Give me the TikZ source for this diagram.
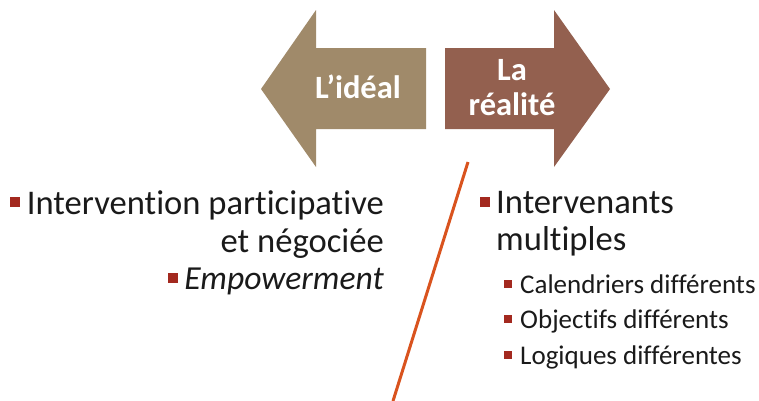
\documentclass[tikz,border=0pt]{standalone}
\usepackage{fontspec}
\setmainfont[Ligatures=NoCommon]{Carlito}
\definecolor{tan}{HTML}{A08A6A}
\definecolor{brownred}{HTML}{93604F}
\definecolor{bul}{HTML}{A3291F}
\definecolor{orangeline}{HTML}{D9531E}
\definecolor{txt}{HTML}{1A1A1A}
\begin{document}
\begin{tikzpicture}[x=1pt,y=-1pt,
  arrowlabel/.style={text=white,font=\bfseries\fontsize{32.5}{35}\selectfont,align=center,inner sep=0},
  bigtext/.style={text=txt,font=\fontsize{34.6}{38}\selectfont,inner sep=0},
  smalltext/.style={text=txt,font=\fontsize{27}{34}\selectfont,inner sep=0},
  bigbullet/.style={fill=bul,minimum size=10pt,inner sep=0},
  smallbullet/.style={fill=bul,minimum size=7.5pt,inner sep=0}]
\useasboundingbox (0,0) rectangle (759,400);
% arrows
\fill[tan] (261,89) -- (316,10) -- (316,48) -- (426,48) -- (426,129) -- (316,129) -- (316,167) -- cycle;
\fill[brownred] (610,89) -- (554,10) -- (554,48) -- (445,48) -- (445,129) -- (554,129) -- (554,167) -- cycle;
\node[arrowlabel] (ideal) at (358,87) {L’idéal};
\node[arrowlabel] (realite) at (512,88) {La\\réalité};
% separator line
\draw[orangeline,line width=3pt] (468,162) -- (393,401);
% left list
\node[bigbullet] (b1) at (15,202) {};
\node[bigtext,anchor=base east] (l1) at (384,214) {Intervention participative};
\node[bigtext,anchor=base east] (l2) at (384,252) {et négociée};
\node[bigbullet] (b2) at (173,278) {};
\node[bigtext,anchor=base east,font=\itshape\fontsize{33.6}{38}\selectfont] (l3) at (384,289) {Empowerment};
% right list
\node[bigbullet] (b3) at (485,202) {};
\node[bigtext,anchor=base west] (r1) at (496,213) {Intervenants};
\node[bigtext,anchor=base west] (r2) at (496,250) {multiples};
\node[smallbullet] (s1) at (508,284) {};
\node[smalltext,anchor=base west] (r3) at (520,293) {Calendriers différents};
\node[smallbullet] (s2) at (508,319) {};
\node[smalltext,anchor=base west] (r4) at (520,328) {Objectifs différents};
\node[smallbullet] (s3) at (508,355) {};
\node[smalltext,anchor=base west] (r5) at (520,364) {Logiques différentes};
\end{tikzpicture}
\end{document}
